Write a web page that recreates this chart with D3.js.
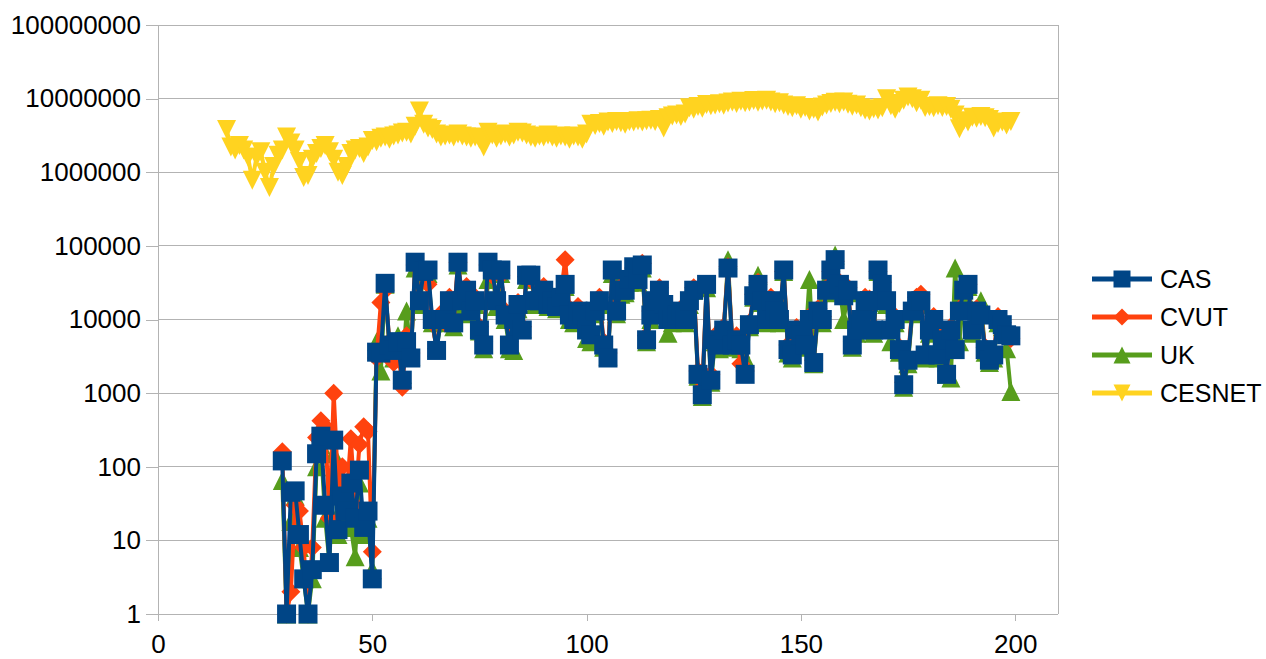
<!DOCTYPE html>
<html>
<head>
<meta charset="utf-8">
<script src="https://cdn.jsdelivr.net/npm/d3@7"></script>
<style>
  html, body { margin: 0; padding: 0; background: #fff; }
  svg { display: block; font-family: "Liberation Sans", Arial, sans-serif; }
</style>
</head>
<body>
<svg id="chart" width="1266" height="659"></svg>
<script>
// ---- data ----------------------------------------------------------------
const xTicks = [0, 50, 100, 150, 200];
const yTicks = [1, 10, 100, 1000, 10000, 100000, 1000000, 10000000, 100000000];

const seriesNames = ["CAS", "CVUT", "UK", "CESNET"];
const seriesColors = ["#004586", "#ff420e", "#579d1c", "#ffd320"];

// first x of each series
const casStart = 29;
const cvutStart = 29;
const ukStart = 29;
const cesnetStart = 16;

const casValues = [
  120, 1, 45, 47, 12, 3, 1, 4, 150, 260, 30, 5, 230, 14, 40, 25, 60, 20, 90, 15, 25, 3,
  3600, 3500, 31000, 4500, 3800, 5000, 1500, 5000, 3000, 60000,
  18000, 45000, 47000, 10000, 3800, 10000, 10000, 18000, 9000, 60000,
  18000, 25000, 13000, 18000, 7200, 4500, 60000, 47000, 18000, 47000,
  11500, 4500, 10000, 16000, 7200, 40000, 40000, 18000, 18000, 25000,
  16000, 18000, 15000, 20000, 30000, 11500, 10000, 13000, 11500, 7200,
  6200, 13000, 18000, 4500, 3000, 47000, 13000, 25000, 25000, 35000,
  52000, 35000, 55000, 5300, 11500, 18000, 25000, 16000, 10000, 10000,
  11500, 13000, 10000, 18000, 25000, 1800, 950, 30000, 1500, 5300,
  4500, 7200, 50000, 4500, 5300, 4500, 1800, 8500, 21000, 30000,
  18000, 10000, 18000, 13000, 10000, 47000, 3900, 3300, 7200, 6200,
  4500, 10000, 2600, 13000, 10000, 25000, 47000, 65000, 30000, 21000,
  25000, 4500, 7200, 10000, 18000, 18000, 7200, 47000, 30000, 18000,
  7200, 10000, 3900, 1300, 2800, 13000, 18000, 18000, 3300, 7200,
  10000, 3300, 5300, 1800, 7200, 3900, 13000, 25000, 30000, 7200,
  13000, 11500, 3900, 2800, 3300, 10000, 8500, 6200, 6000
];

const cvutValues = [
  160, 1, 2, 30, 25, 8, 1, 8, 250, 420, 350, 20, 1000, 60, 100, 40, 240, 30, 200, 350, 300, 7,
  3000, 17000, 25000, 5000, 2600, 4000, 1200, 6000, 3500, 55000,
  20000, 40000, 30000, 9000, 4000, 12000, 9000, 20000, 10000, 60000,
  20000, 28000, 15000, 20000, 8000, 5000, 55000, 40000, 20000, 40000,
  13000, 5000, 11000, 17000, 8000, 38000, 35000, 20000, 22000, 28000,
  18000, 20000, 17000, 22000, 65000, 14000, 11000, 15000, 13000, 8000,
  7000, 14000, 20000, 5000, 3500, 45000, 15000, 28000, 27000, 38000,
  50000, 38000, 58000, 6000, 13000, 20000, 27000, 18000, 11000, 11000,
  12000, 14000, 11000, 20000, 27000, 2000, 1200, 28000, 1800, 6000,
  5000, 8000, 52000, 5000, 6000, 2500, 2000, 9000, 22000, 32000,
  20000, 11000, 20000, 14000, 11000, 45000, 4500, 3500, 7800, 6500,
  5000, 11000, 2800, 14000, 11000, 27000, 45000, 62000, 32000, 22000,
  27000, 5000, 7800, 11000, 20000, 19000, 8000, 45000, 32000, 20000,
  8000, 11000, 4200, 1400, 3000, 14000, 20000, 22000, 3500, 8000,
  11000, 3500, 6000, 2000, 8000, 4200, 14000, 27000, 30000, 8000,
  14000, 12000, 4200, 3000, 3500, 11000, 9000, 6800, 5500
];

const ukValues = [
  65, 1, 18, 40, 8, 3, 1, 3, 100, 200, 20, 5, 150, 12, 30, 20, 15, 6, 60, 12, 20, 4,
  5000, 2000, 30000, 4000, 3000, 6000, 1800, 13000, 3200, 50000,
  16000, 40000, 42000, 9000, 4200, 9000, 11000, 15000, 8000, 55000,
  16000, 22000, 12000, 16000, 7000, 4000, 35000, 45000, 15000, 42000,
  10000, 4000, 3800, 14000, 7500, 35000, 38000, 16000, 18000, 22000,
  15000, 16000, 14000, 18000, 28000, 10000, 9000, 12000, 10000, 5500,
  5000, 12000, 16000, 4200, 3200, 42000, 12000, 22000, 23000, 32000,
  48000, 32000, 50000, 5000, 10000, 16000, 22000, 14000, 6500, 9000,
  10000, 12000, 9000, 16000, 25000, 1700, 900, 27000, 1400, 5000,
  4000, 6500, 65000, 4200, 5000, 4000, 3000, 8000, 20000, 40000,
  17000, 9000, 16000, 12000, 9000, 45000, 3500, 3000, 6500, 6000,
  4200, 35000, 2500, 12000, 9000, 23000, 45000, 75000, 28000, 10000,
  23000, 4200, 6500, 9000, 16000, 17000, 6500, 45000, 28000, 16000,
  5000, 9000, 3600, 1200, 2500, 12000, 16000, 17000, 3000, 6500,
  9000, 3000, 5000, 1800, 1600, 50000, 5000, 23000, 28000, 6500,
  12000, 18000, 3600, 2600, 3000, 9000, 8000, 4000, 1050
];

const cesnetValues = [
  3800000, 2200000, 2000000, 2300000, 2000000, 1600000, 780000, 1600000, 1900000, 1000000,
  620000, 1200000, 1700000, 2000000, 3000000, 2500000, 2000000, 1400000, 850000, 900000,
  1500000, 1800000, 2100000, 2300000, 1900000, 1500000, 1000000, 900000, 1200000, 1800000,
  2000000, 2100000, 1800000, 2200000, 2700000, 2600000, 2900000, 3000000, 2800000, 3100000,
  3200000, 3400000, 3500000, 3300000, 4200000, 6800000, 4500000, 4000000, 3800000, 3300000,
  3000000, 3100000, 3200000, 3000000, 3300000, 3100000, 3000000, 2900000, 3000000, 2800000,
  2200000, 3500000, 3200000, 2900000, 3100000, 3300000, 3000000, 3200000, 3500000, 3400000,
  3200000, 3000000, 2900000, 3100000, 3000000, 3200000, 3000000, 2900000, 3100000, 3000000,
  2800000, 3100000, 3000000, 2800000, 3300000, 4500000, 4300000, 4600000, 4200000, 4800000,
  4600000, 4900000, 4700000, 4500000, 4900000, 4800000, 5000000, 4800000, 5000000, 5100000,
  4900000, 5200000, 4000000, 5500000, 5800000, 6000000, 5700000, 6200000, 7500000, 7200000,
  7800000, 7400000, 8300000, 8000000, 8200000, 8500000, 8100000, 8700000, 9000000, 8600000,
  9200000, 8800000, 9000000, 9400000, 8900000, 9300000, 9500000, 9000000, 8500000, 8800000,
  8200000, 7800000, 7500000, 8000000, 7200000, 7600000, 6800000, 7200000, 6600000, 7700000,
  8200000, 8600000, 8900000, 8500000, 9000000, 8400000, 7900000, 8200000, 7500000, 7000000,
  6800000, 7300000, 7000000, 7500000, 10000000, 8000000, 7200000, 8600000, 9500000, 10500000,
  10000000, 8800000, 9500000, 7600000, 7800000, 7500000, 8000000, 7600000, 7800000, 7200000,
  6000000, 3900000, 5000000, 4800000, 5600000, 5400000, 5700000, 5500000, 5200000, 4000000,
  4600000, 4800000, 4400000, 4900000
];

// ---- layout --------------------------------------------------------------
const svg = d3.select("#chart");
const plot = { left: 158, right: 1058, top: 25, bottom: 614 };

const x = d3.scaleLinear().domain([0, 210]).range([plot.left, plot.right]);
const y = d3.scaleLog().domain([1, 1e8]).range([plot.bottom, plot.top]);

const gridColor = "#b3b3b3";
const axisFontSize = 26;
const legendFontSize = 25;

// horizontal grid lines
svg.append("g")
  .selectAll("line")
  .data(yTicks)
  .join("line")
  .attr("x1", plot.left).attr("x2", plot.right)
  .attr("y1", d => y(d)).attr("y2", d => y(d))
  .attr("stroke", gridColor).attr("stroke-width", 1)
  .attr("shape-rendering", "crispEdges");

// right frame edge
svg.append("line")
  .attr("x1", plot.right).attr("x2", plot.right)
  .attr("y1", plot.top).attr("y2", plot.bottom)
  .attr("stroke", gridColor).attr("shape-rendering", "crispEdges");

// y axis
const yAxis = d3.axisLeft(y)
  .tickValues(yTicks)
  .tickFormat(d3.format("d"))
  .tickSize(12)
  .tickSizeOuter(0)
  .tickPadding(5);
const gy = svg.append("g")
  .attr("transform", `translate(${plot.left},0)`)
  .call(yAxis);

// x axis
const xAxis = d3.axisBottom(x)
  .tickValues(xTicks)
  .tickFormat(d3.format("d"))
  .tickSize(7)
  .tickSizeOuter(0)
  .tickPadding(14);
const gx = svg.append("g")
  .attr("transform", `translate(0,${plot.bottom})`)
  .call(xAxis);

[gx, gy].forEach(g => {
  g.select(".domain").attr("stroke", gridColor).attr("shape-rendering", "crispEdges");
  g.selectAll(".tick line").attr("stroke", gridColor).attr("shape-rendering", "crispEdges");
  g.selectAll(".tick text")
    .attr("fill", "#000")
    .style("font-size", axisFontSize + "px")
    .style("font-family", "'Liberation Sans', Arial, sans-serif");
});
gx.select(".domain").attr("d", `M${plot.left},0H${plot.right}`);

// ---- marker shapes -------------------------------------------------------
function markerPath(kind, s) {
  const h = s / 2;
  switch (kind) {
    case "square":  return `M${-h},${-h}H${h}V${h}H${-h}Z`;
    case "diamond": return `M0,${-h}L${h},0L0,${h}L${-h},0Z`;
    case "up":      return `M0,${-h}L${h},${h}L${-h},${h}Z`;
    case "down":    return `M${-h},${-h}L${h},${-h}L0,${h}Z`;
  }
}
const markerKinds = ["square", "diamond", "up", "down"];

const series = [
  { name: seriesNames[0], color: seriesColors[0], kind: markerKinds[0], start: casStart, values: casValues },
  { name: seriesNames[1], color: seriesColors[1], kind: markerKinds[1], start: cvutStart, values: cvutValues },
  { name: seriesNames[2], color: seriesColors[2], kind: markerKinds[2], start: ukStart, values: ukValues },
  { name: seriesNames[3], color: seriesColors[3], kind: markerKinds[3], start: cesnetStart, values: cesnetValues }
].map(s => ({ ...s, points: s.values.map((v, i) => ({ x: s.start + i, v })) }));

const line = d3.line().x(d => x(d.x)).y(d => y(d.v));

const markerSize = 19;
const drawOrder = [3, 2, 1, 0];
const plotLayer = svg.append("g");
drawOrder.forEach(idx => {
  const s = series[idx];
  const g = plotLayer.append("g");
  g.append("path")
    .datum(s.points)
    .attr("d", line)
    .attr("fill", "none")
    .attr("stroke", s.color)
    .attr("stroke-width", 4)
    .attr("stroke-linejoin", "round");
  g.selectAll("path.m")
    .data(s.points)
    .join("path")
    .attr("class", "m")
    .attr("d", markerPath(s.kind, markerSize))
    .attr("transform", d => `translate(${x(d.x)},${y(d.v)})`)
    .attr("fill", s.color);
});

// ---- legend --------------------------------------------------------------
const legend = svg.append("g");
const legendY = [279, 317, 355, 393];
series.forEach((s, i) => {
  const g = legend.append("g").attr("transform", `translate(0,${legendY[i]})`);
  g.append("line")
    .attr("x1", 1092).attr("x2", 1152)
    .attr("stroke", s.color).attr("stroke-width", 5);
  g.append("path")
    .attr("d", markerPath(s.kind, 17))
    .attr("transform", "translate(1122,0)")
    .attr("fill", s.color);
  g.append("text")
    .attr("x", 1160).attr("dy", "0.35em")
    .style("font-size", legendFontSize + "px")
    .attr("fill", "#000")
    .text(s.name);
});
</script>
</body>
</html>
